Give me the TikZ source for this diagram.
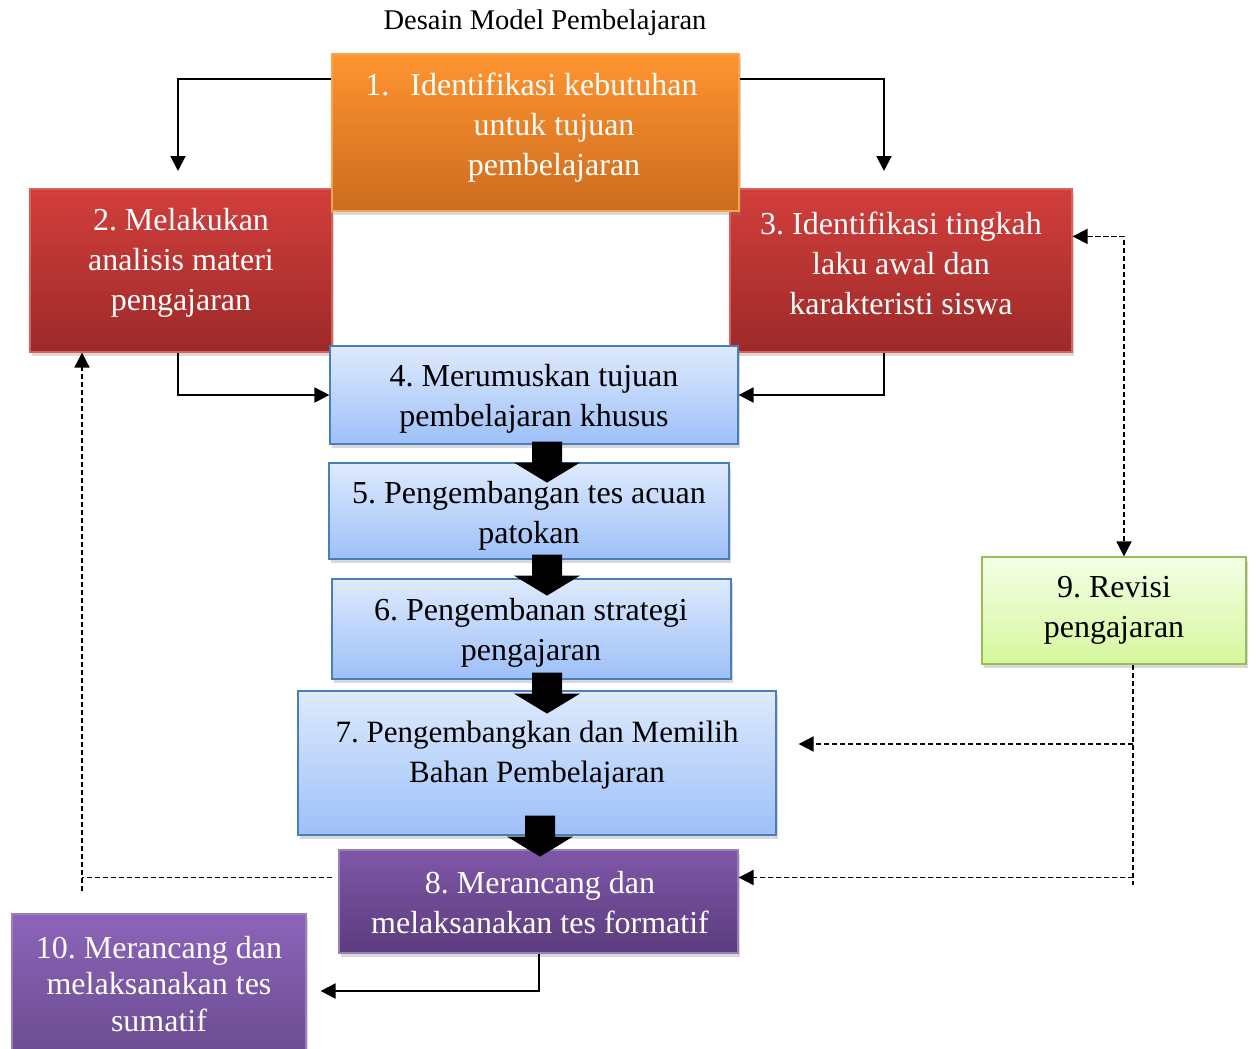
\documentclass[tikz,border=0pt]{standalone}
\usepackage{fontspec}
\setmainfont{Liberation Serif}
\frenchspacing
\usetikzlibrary{arrows.meta,shadows}
\definecolor{orangetop}{HTML}{FF9430}
\definecolor{orangebot}{HTML}{CC6C1F}
\definecolor{orangeline}{HTML}{F6A54E}
\definecolor{redtop}{HTML}{D23E3B}
\definecolor{redbot}{HTML}{9C2A29}
\definecolor{redline}{HTML}{D9605C}
\definecolor{bluetop}{HTML}{DEEAFD}
\definecolor{bluebot}{HTML}{9DC0F8}
\definecolor{blueline}{HTML}{4A7EBB}
\definecolor{greentop}{HTML}{F4FFE6}
\definecolor{greenbot}{HTML}{D5F79C}
\definecolor{greenline}{HTML}{9BBB59}
\definecolor{purpletop}{HTML}{7F57A8}
\definecolor{purplebot}{HTML}{5B3C7D}
\definecolor{purpleline}{HTML}{9A80BA}
\definecolor{violettop}{HTML}{8C64BA}
\definecolor{violetbot}{HTML}{6A4B8F}
\tikzset{
  box/.style={rectangle,inner sep=0pt,line width=1.2pt,drop shadow={shadow xshift=1.5pt,shadow yshift=-3.5pt,opacity=0.3}},
  orangebox/.style={box,draw=orangeline,top color=orangetop,bottom color=orangebot},
  redbox/.style={box,draw=redline,top color=redtop,bottom color=redbot},
  bluebox/.style={box,draw=blueline,top color=bluetop,bottom color=bluebot},
  greenbox/.style={box,draw=greenline,top color=greentop,bottom color=greenbot},
  purplebox/.style={box,draw=purpleline,top color=purpletop,bottom color=purplebot},
  violetbox/.style={box,draw=purpleline,top color=violettop,bottom color=violetbot},
  txt/.style={align=center,inner sep=0pt,font=\fontsize{32}{40}\selectfont},
  conn/.style={line width=2pt,-{Triangle[length=15pt,width=15pt]}},
  dline/.style={line width=1.8pt,dash pattern=on 5.5pt off 2.5pt},
  dconn/.style={dline,-{Triangle[length=15pt,width=15pt]}},
  blockarrow/.pic={\fill (-15,0) -- (15,0) -- (15,21) -- (33,21) -- (0,41) -- (-33,21) -- (-15,21) -- cycle;}
}
\begin{document}
\begin{tikzpicture}[x=1pt,y=-1pt]
\useasboundingbox (0,0) rectangle (1256,1049);
\node[font=\fontsize{28.5}{34}\selectfont] (title) at (545,23) {Desain Model Pembelajaran};
\node[redbox,minimum width=302pt,minimum height=163pt] (b2) at (181,270.5) {};
\node[redbox,minimum width=342pt,minimum height=163pt] (b3) at (901,270.5) {};
\node[orangebox,minimum width=407pt,minimum height=157pt] (b1) at (535.5,132.5) {};
\node[bluebox,minimum width=408pt,minimum height=98pt] (b4) at (534,395) {};
\node[bluebox,minimum width=400pt,minimum height=96pt] (b5) at (529,511) {};
\node[bluebox,minimum width=399pt,minimum height=100pt] (b6) at (531.5,629) {};
\node[bluebox,minimum width=478pt,minimum height=144pt] (b7) at (537,763) {};
\node[purplebox,minimum width=399pt,minimum height=103pt] (b8) at (538.5,901.5) {};
\node[greenbox,minimum width=264pt,minimum height=107pt] (b9) at (1114,610.5) {};
\node[violetbox,minimum width=294pt,minimum height=146pt] (b10) at (159,987) {};
\node[txt,white] (t1) at (554,128) {\leavevmode\llap{1.\hspace{21pt}}Identifikasi kebutuhan\\untuk tujuan\\pembelajaran};
\node[txt,white] (t2) at (181,263) {2. Melakukan\\analisis materi\\pengajaran};
\node[txt,white] (t3) at (901,263) {3. Identifikasi tingkah\\laku awal dan\\karakteristi siswa};
\node[txt] (t4) at (534,399) {4. Merumuskan tujuan\\pembelajaran khusus};
\node[txt] (t5) at (529,516) {5. Pengembangan tes acuan\\patokan};
\node[txt] (t6) at (531,633) {6. Pengembanan strategi\\pengajaran};
\node[txt,font=\fontsize{31}{40}\selectfont] (t7) at (537,755) {7. Pengembangkan dan Memilih\\Bahan Pembelajaran};
\node[txt,white] (t8) at (540,903) {8. Merancang dan\\melaksanakan tes formatif};
\node[txt] (t9) at (1114,610) {9. Revisi\\pengajaran};
\node[txt,white,font=\fontsize{32}{36.5}\selectfont] (t10) at (159,984) {10. Merancang dan\\melaksanakan tes\\sumatif};
\pic at ([shift={(13,-3)}]b4.south) {blockarrow};
\pic at ([shift={(18,-5)}]b5.south) {blockarrow};
\pic at ([shift={(15.5,-7)}]b6.south) {blockarrow};
\pic at ([shift={(3,-20)}]b7.south) {blockarrow};
\coordinate (in2) at (178,171);
\coordinate (in3) at (884,171);
\draw[conn] ([yshift=-26pt]b1.north west) -| (in2);
\draw[conn] ([yshift=-26pt]b1.north east) -| (in3);
\draw[conn] (b2.south -| in2) |- (b4.west);
\draw[conn] (b3.south -| in3) |- (b4.east);
\draw[dline,{Triangle[length=15pt,width=15pt]}-{Triangle[length=15pt,width=15pt]}] ([yshift=-48pt]b3.north east) -| ([xshift=10pt]b9.north);
\coordinate (e9) at (1133,885);
\coordinate (p7) at ([shift={(22,-19)}]b7.east);
\coordinate (p8) at ([shift={(0,-24)}]b8.east);
\draw[dline] ([xshift=19pt]b9.south) -- (e9);
\draw[dconn] (e9 |- p7) -- (p7);
\draw[dconn] (e9 |- p8) -- (p8);
\coordinate (e2) at (82,891);
\draw[dline] ([xshift=-6pt]p8 -| b8.west) -- (p8 -| e2);
\draw[dconn] (e2) -- (e2 |- b2.south);
\draw[conn] (b8.south) |- ([shift={(14,4)}]b10.east);
\end{tikzpicture}
\end{document}
